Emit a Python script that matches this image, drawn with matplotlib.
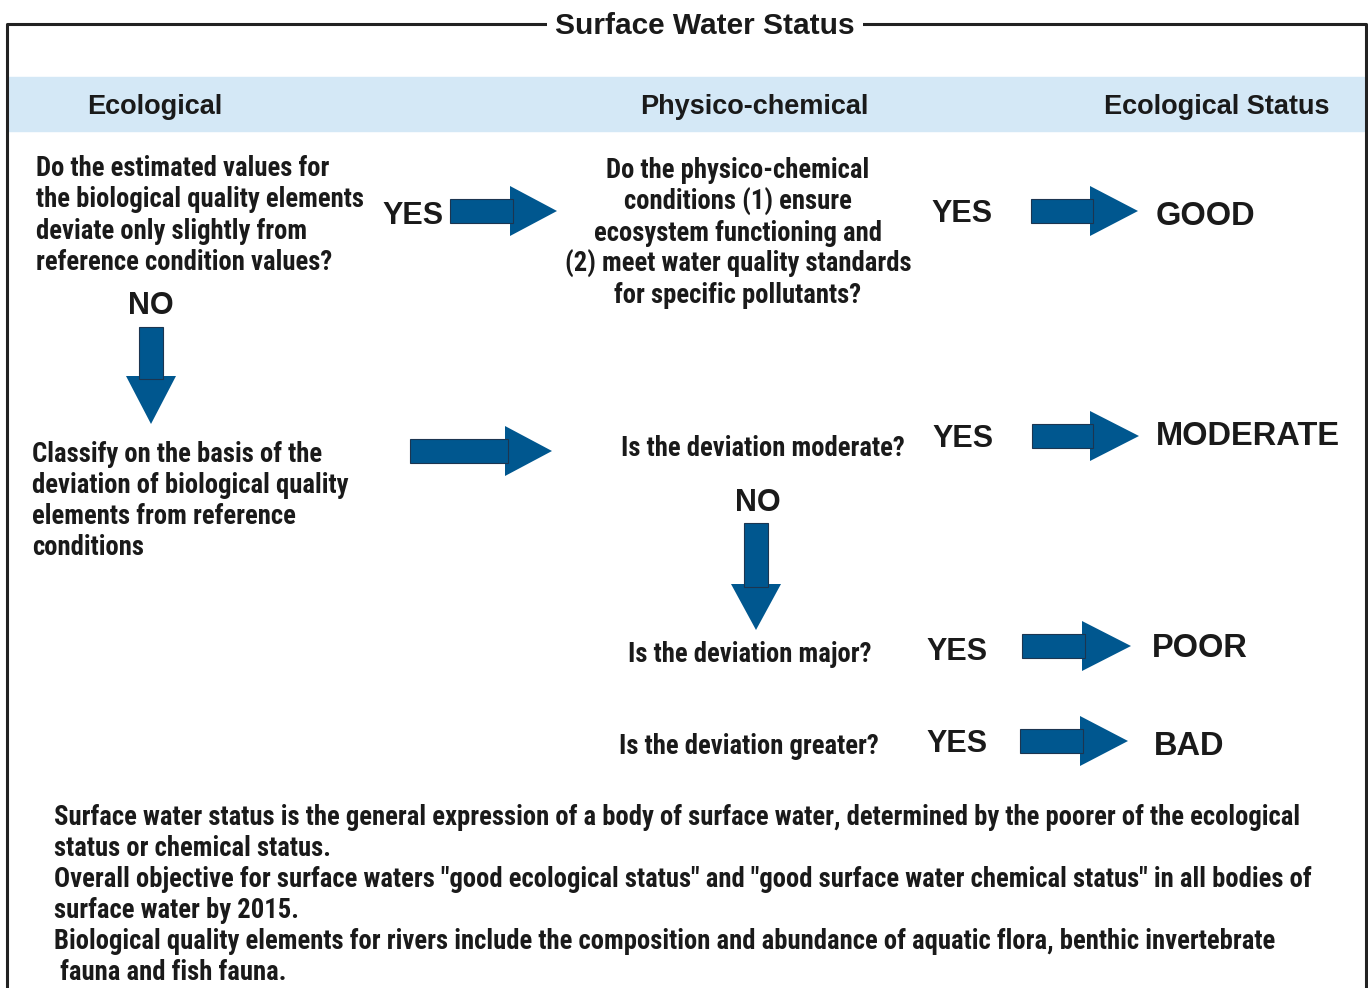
import matplotlib.pyplot as plt
from matplotlib import font_manager
from matplotlib.patches import Polygon, Rectangle

# texts
title = "Surface Water Status"
headers = ["Ecological", "Physico-chemical", "Ecological Status"]
q1 = ["Do the estimated values for", "the biological quality elements",
      "deviate only slightly from", "reference condition values?"]
q2 = ["Do the physico-chemical", "conditions (1) ensure", "ecosystem functioning and",
      "(2) meet water quality standards", "for specific pollutants?"]
classify = ["Classify on the basis of the", "deviation of biological quality",
            "elements from reference", "conditions"]
questions = ["Is the deviation moderate?", "Is the deviation major?", "Is the deviation greater?"]
statuses = ["GOOD", "MODERATE", "POOR", "BAD"]
footer = ["Surface water status is the general expression of a body of surface water, determined by the poorer of the ecological",
          "status or chemical status.",
          "Overall objective for surface waters \"good ecological status\" and \"good surface water chemical status\" in all bodies of",
          "surface water by 2015.",
          "Biological quality elements for rivers include the composition and abundance of aquatic flora, benthic invertebrate",
          " fauna and fish fauna."]

# layout (pixel coords, y down)
right_arrows = [(450, 510, 557, 211), (1031, 1090, 1138, 211), (410, 505, 552, 451),
                (1032, 1090, 1139, 436), (1022, 1082, 1131, 646), (1020, 1080, 1128, 741)]
down_arrows = [(151, 327, 376, 424), (756, 523, 584, 630)]
yes_pos = [(413, 216), (962, 214), (963, 439), (957, 652), (957, 744)]
status_pos = [(1156, 216), (1156, 436), (1152, 648), (1154, 746)]
question_pos = [(763, 448), (750, 654), (749, 746)]
dy = 2.5

blue = "#00578f"
ink = "#1a1a1a"
wide = ["Liberation Sans", "DejaVu Sans"]

# pick a condensed face if one is installed
names = {f.name for f in font_manager.fontManager.ttflist}
narrow = None
for cand in ["Liberation Sans Narrow", "Roboto Condensed", "Open Sans Condensed",
             "DejaVu Sans Condensed", "Roboto"]:
    if cand in names:
        narrow = [cand, "DejaVu Sans"]
        break
if narrow is None:
    narrow = wide

fig = plt.figure(figsize=(13.68, 9.88), dpi=100)
ax = fig.add_axes([0, 0, 1, 1])
ax.set_xlim(0, 1368)
ax.set_ylim(988, 0)
ax.axis("off")
renderer = fig.canvas.get_renderer()


def fit_size(txt, family, target):
    t = ax.text(0, 0, txt, fontsize=20, fontweight="bold", family=family)
    w = t.get_window_extent(renderer).width
    t.remove()
    return 20 * target / w


body_size = fit_size(q1[0], narrow, 292)

# frame
ax.plot([7, 7, 1366, 1366], [988, 24, 24, 988], color="#222222", lw=2.2)
ax.add_patch(Rectangle((8, 77), 1356, 54, color="#d4e8f6", zorder=1))
ax.text(705, 23 + dy, title, ha="center", va="center", fontsize=21.5, fontweight="bold",
        family=wide, color=ink, bbox=dict(fc="white", ec="none", pad=6), zorder=3)

for txt, x, ha in zip(headers, [87, 754, 1330], ["left", "center", "right"]):
    ax.text(x, 105 + dy, txt, ha=ha, va="center", fontsize=19.5, fontweight="bold",
            family=wide, color=ink, zorder=3)

body = dict(fontsize=body_size, fontweight="bold", family=narrow, color=ink, va="center")

for i, line in enumerate(q1):
    ax.text(36, 166 + dy + i * 31.3, line, ha="left", **body)
for i, line in enumerate(q2):
    ax.text(738, 168 + dy + i * 31.3, line, ha="center", **body)
for i, line in enumerate(classify):
    ax.text(32, 452 + dy + i * 31, line, ha="left", **body)
for txt, (x, y) in zip(questions, question_pos):
    ax.text(x, y, txt, ha="center", **body)
for i, line in enumerate(footer):
    ax.text(54, 815 + dy + i * 31, line, ha="left", **body)

for x, y in yes_pos:
    ax.text(x, y, "YES", ha="center", va="center", fontsize=22, fontweight="bold",
            family=wide, color=ink)
for x, y in [(151, 306), (758, 503)]:
    ax.text(x, y, "NO", ha="center", va="center", fontsize=22, fontweight="bold",
            family=wide, color=ink)
for txt, (x, y) in zip(statuses, status_pos):
    ax.text(x, y, txt, ha="left", va="center", fontsize=23.5, fontweight="bold",
            family=wide, color=ink)

# arrows
for x0, x1, x2, yc in right_arrows:
    ax.add_patch(Polygon([(x1, yc - 25), (x2, yc), (x1, yc + 25)], closed=True,
                         fc=blue, ec="none", zorder=2))
    ax.add_patch(Rectangle((x0, yc - 12), x1 + 3 - x0, 24, fc=blue, ec="#1c3550",
                           lw=0.8, zorder=2))
for xc, y0, y1, y2 in down_arrows:
    ax.add_patch(Polygon([(xc - 25, y1), (xc, y2), (xc + 25, y1)], closed=True,
                         fc=blue, ec="none", zorder=2))
    ax.add_patch(Rectangle((xc - 12, y0), 24, y1 + 3 - y0, fc=blue, ec="#1c3550",
                           lw=0.8, zorder=2))

fig.savefig("out.png", dpi=100)
